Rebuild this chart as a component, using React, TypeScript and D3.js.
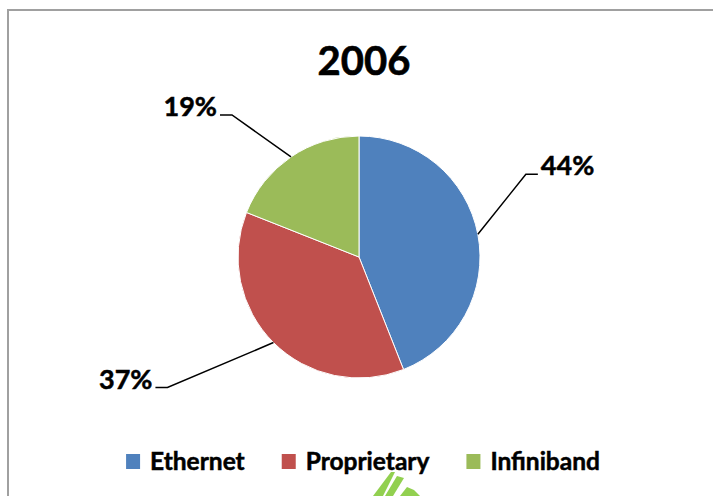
import { useEffect, useRef } from 'react';
import * as d3 from 'd3';

const title = '2006';
const categories = ['Ethernet', 'Proprietary', 'Infiniband'];
const shares = [44, 37, 19];
const colors = ['#4F81BD', '#C0504D', '#9BBB59'];
// offset from the slice edge to the leader elbow
const leaderOffsets: [number, number][] = [[48, -60], [-106, 45], [-59, -42]];

const W = 713;
const H = 496;
const FONT = 'Lato, "Open Sans", sans-serif';

export default function App() {
  const svgRef = useRef<SVGSVGElement>(null);

  useEffect(() => {
    document.body.style.margin = '0';
    if (!svgRef.current) return;
    const svg = d3.select(svgRef.current);
    svg.selectAll('*').remove();

    svg.append('rect').attr('width', W).attr('height', H).attr('fill', '#fff');

    // chart frame (runs off the right/bottom edge)
    svg.append('rect')
      .attr('x', 8).attr('y', 10)
      .attr('width', W + 20).attr('height', H + 20)
      .attr('fill', 'none')
      .attr('stroke', '#a0a0a0')
      .attr('stroke-width', 2);

    svg.append('text')
      .attr('x', 364).attr('y', 75)
      .attr('text-anchor', 'middle')
      .attr('font-family', FONT)
      .attr('font-weight', 700)
      .attr('font-size', 40)
      .attr('stroke', '#000').attr('stroke-width', 0.6)
      .text(title);

    const cx = 359, cy = 257, r = 121;
    const pie = d3.pie<number>().sort(null).value(d => d);
    const arcs = pie(shares);
    const arc = d3.arc<d3.PieArcDatum<number>>().innerRadius(0).outerRadius(r);

    const g = svg.append('g').attr('transform', `translate(${cx},${cy})`);
    g.selectAll('path')
      .data(arcs)
      .join('path')
      .attr('d', arc)
      .attr('fill', (_, i) => colors[i])
      .attr('stroke', '#fff')
      .attr('stroke-width', 1);

    const total = d3.sum(shares);
    arcs.forEach((a, i) => {
      const mid = (a.startAngle + a.endAngle) / 2;
      const ex = Math.sin(mid) * r;
      const ey = -Math.cos(mid) * r;
      const [ox, oy] = leaderOffsets[i];
      const bx = ex + ox, by = ey + oy;
      const dir = bx > 0 ? 1 : -1;
      const tx = bx + dir * 12;
      g.append('path')
        .attr('d', `M${ex},${ey}L${bx},${by}L${tx},${by}`)
        .attr('fill', 'none')
        .attr('stroke', '#000')
        .attr('stroke-width', 1.5);
      g.append('text')
        .attr('x', tx + dir * 3)
        .attr('y', by + 1)
        .attr('text-anchor', dir > 0 ? 'start' : 'end')
        .attr('font-family', FONT)
        .attr('font-weight', 700)
        .attr('font-size', 27)
        .attr('stroke', '#000').attr('stroke-width', 0.5)
        .text(`${Math.round((a.data / total) * 100)}%`);
    });

    // legend
    const lg = svg.append('g');
    const items = categories.map((c, i) => {
      const it = lg.append('g');
      it.append('rect').attr('width', 14).attr('height', 15).attr('y', -16).attr('fill', colors[i]);
      const t = it.append('text')
        .attr('x', 24)
        .attr('font-family', FONT)
        .attr('font-weight', 700)
        .attr('font-size', 24.5)
        .attr('stroke', '#000').attr('stroke-width', 0.5)
        .text(c);
      return { it, w: 24 + (t.node() as SVGTextElement).getComputedTextLength() };
    });
    const gap = 37;
    const totalW = d3.sum(items, d => d.w) + gap * (items.length - 1);
    let x = 363 - totalW / 2;
    items.forEach(d => {
      d.it.attr('transform', `translate(${x},470)`);
      x += d.w + gap;
    });

    // green watermark fragment at the bottom
    const wm = svg.append('g').attr('fill', '#92D050');
    const shapes = [
      [[391, 472], [395, 472], [383, 496], [373, 496]],
      [[397, 476], [404, 478], [393, 496], [385, 496]],
      [[407, 487], [414, 490], [420, 496], [400, 496]],
    ];
    shapes.forEach(p => wm.append('polygon').attr('points', p.map(q => q.join(',')).join(' ')));
  }, []);

  return <svg ref={svgRef} width={W} height={H} style={{ display: 'block' }} />;
}
